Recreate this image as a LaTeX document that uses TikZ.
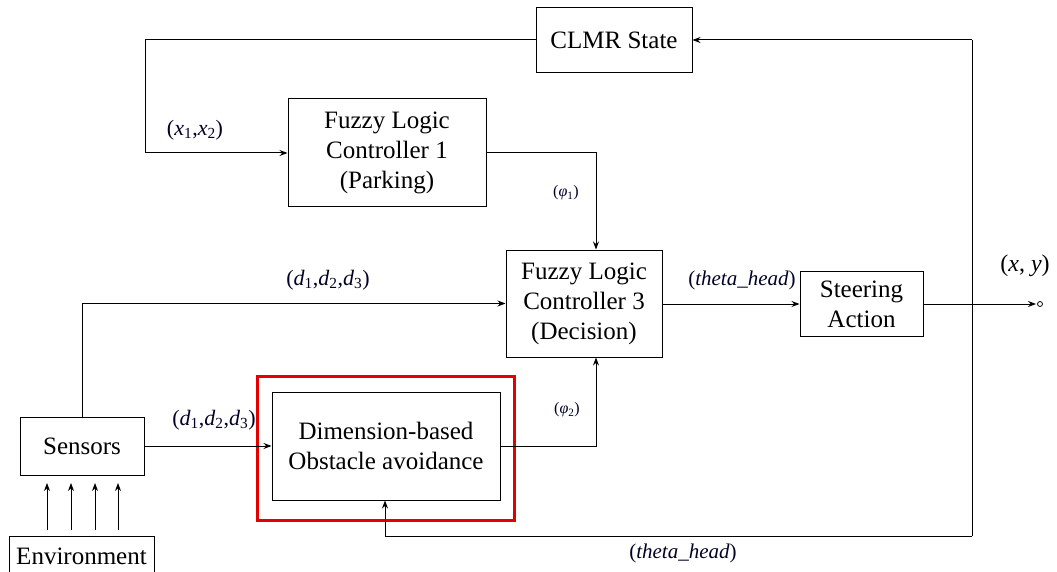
\documentclass[tikz,border=0pt]{standalone}
\usepackage{fontspec}
\newfontfamily\tms{Liberation Serif}
\usetikzlibrary{arrows.meta,positioning}
\newcommand{\vv}[1]{\textit{#1}}
\newcommand{\sbs}[1]{\textsubscript{#1}}
\begin{document}
\begin{tikzpicture}[x=1pt,y=-1pt]
\tikzset{
  blk/.style={draw,line width=1pt,align=center,inner sep=0pt,font=\tms\fontsize{25}{30}\selectfont},
  arr/.style={line width=1pt,-{Stealth[length=8pt,width=6pt]}},
  ln/.style={line width=1pt},
  lab/.style={font=\tms\fontsize{22}{26}\selectfont,text=black!85!blue}}
\useasboundingbox (0,0) rectangle (1057,572);
\node[blk,minimum width=156,minimum height=65] (clmr) at (614,40) {CLMR State};
\node[blk,minimum width=198,minimum height=108] (flc1) at (387,153) {Fuzzy Logic\\Controller 1\\(Parking)};
\node[blk,minimum width=156,minimum height=107] (flc3) at (584,303.5) {Fuzzy Logic\\Controller 3\\(Decision)};
\node[blk,minimum width=123,minimum height=65] (steer) at (861.5,304) {Steering\\Action};
\node[blk,minimum width=124,minimum height=58] (sens) at (82,446) {Sensors};
\node[blk,minimum width=228,minimum height=108] (dim) at (386,446) {Dimension-based\\Obstacle avoidance};
\node[blk,minimum width=145,minimum height=40,anchor=north] (env) at (81.5,536) {Environment};
\draw[red!90!black,line width=3pt] ([shift={(-14,-15)}]dim.north west) rectangle ([shift={(14,20)}]dim.south east);

\coordinate (c1) at (145,40);
\draw[arr] (clmr.west) -- (c1) |- (flc1.west);
\node[lab] (l1) at (195,130) {(\vv{x}\sbs{1},\vv{x}\sbs{2})};

\coordinate (c2) at (596,153);
\draw[arr] (flc1.east) -- (c2) -- (c2 |- flc3.north);
\node[lab,font=\tms\fontsize{16}{18}\selectfont] (l2) at (566,193) {(\vv{φ}\sbs{1})};

\draw[arr] (sens.north) |- (flc3.west);
\node[lab] (l3) at (328,280) {(\vv{d}\sbs{1},\vv{d}\sbs{2},\vv{d}\sbs{3})};

\draw[arr] (sens.east) -- (dim.west);
\node[lab] (l4) at (214,420) {(\vv{d}\sbs{1},\vv{d}\sbs{2},\vv{d}\sbs{3})};

\coordinate (c3) at (596,446);
\draw[arr] (dim.east) -- (c3) -- (c3 |- flc3.south);
\node[lab,font=\tms\fontsize{16}{18}\selectfont] (l5) at (567,410) {(\vv{φ}\sbs{2})};

\draw[arr] (flc3.east |- steer.west) -- (steer.west);
\node[lab,font=\tms\fontsize{21}{24}\selectfont] (l6) at (742,280) {(\vv{theta\_head})};

\coordinate (out) at (1040,304);
\draw[arr] (steer.east) -- ([xshift=-4]out);
\draw[line width=0.8pt,fill=white] (out) circle (2.5);
\node[font=\tms\fontsize{24}{28}\selectfont] (l7) at (1025,266) {(\vv{x}, \vv{y})};

\coordinate (r1) at (972,40);
\coordinate (r2) at (972,536);
\coordinate (r3) at (385,536);
\draw[arr] (r1) -- (clmr.east);
\draw[ln] (r1) -- (r2);
\draw[arr] (r2) -- (r3) -- (dim.south -| r3);
\node[lab,font=\tms\fontsize{21}{24}\selectfont] (l8) at (683,553) {(\vv{theta\_head})};

\foreach \x in {47,71,95,118}{
  \draw[arr] (\x,530) -- (\x,483);
}
\end{tikzpicture}
\end{document}
